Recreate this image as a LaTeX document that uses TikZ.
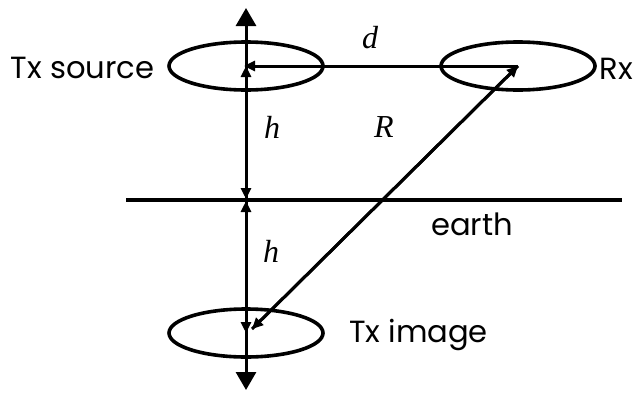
\documentclass[tikz,border=0pt]{standalone}
\usepackage{fontspec}
\setmainfont{Poppins}
\newfontfamily\mathserif{Liberation Serif}
\usetikzlibrary{arrows.meta,shapes.geometric}
\begin{document}
\begin{tikzpicture}[x=0.5pt,y=-0.5pt,
  ant/.style={ellipse,draw,line width=1.8pt,minimum width=77pt,minimum height=24pt,inner sep=0pt},
  vec/.style={line width=1.5pt},
  big/.style={-{Triangle[length=9pt,width=10pt]}},
  small/.style={-{Triangle[length=5.5pt,width=5pt]}},
  lbl/.style={font=\fontsize{15.3}{18}\selectfont,inner sep=0pt,anchor=base},
  var/.style={font=\fontsize{16}{18}\selectfont\mathserif\itshape,inner sep=0pt}]
\useasboundingbox (0,0) rectangle (640,396);
% antennas
\node[ant] (tx) at (246,66) {};
\node[ant] (rx) at (518,66) {};
\node[ant] (img) at (246,333) {};
% earth
\coordinate (eL) at (126,200);
\coordinate (eR) at (622,200);
\draw[line width=2pt] (eL) -- (eR);
\coordinate (e1) at (246,199);
\coordinate (e2) at (246,201);
\coordinate (top) at (246,8);
\coordinate (bot) at (246,390);
% vertical arrows
\draw[vec,big] (tx.center) -- (top);
\draw[vec,small] (e1) -- (tx.center);
\draw[vec,small] (tx.center) -- (e1);
\draw[vec,small] (e2) -- (img.center);
\draw[vec,small] (img.center) -- (e2);
\draw[vec,big] (img.center) -- (bot);
% d
\draw[vec,small,shorten >=-1pt] (rx.center) -- (tx.center);
% R
\coordinate (rb) at (252,329);
\draw[vec,small] (rx.center) -- (rb);
\draw[vec,small] (rb) -- (rx.center);
% labels
\node[lbl] (ltx) at (82.5,78) {Tx source};
\node[lbl,anchor=base west] (lrx) at (599,79) {Rx};
\node[lbl] (learth) at (472,235) {earth};
\node[lbl] (limg) at (418.5,342) {Tx image};
\node[var] (ld) at (370,38) {d};
\node[var] (lh1) at (272,127) {h};
\node[var] (lR) at (384,127) {R};
\node[var] (lh2) at (271,251) {h};
\end{tikzpicture}
\end{document}
